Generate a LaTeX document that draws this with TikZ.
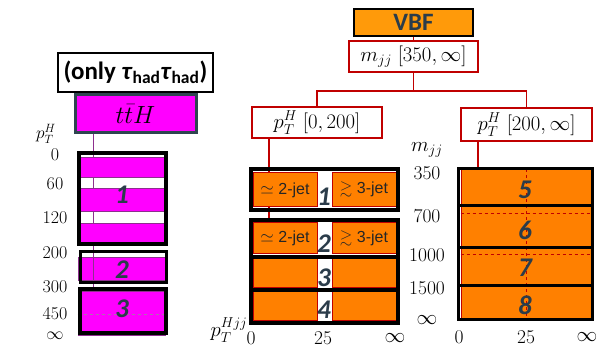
\documentclass[tikz,border=0pt]{standalone}
\usepackage{amssymb}
\usepackage{fontspec}
\newfontfamily\carl{Carlito}
\newfontfamily\arialf{Liberation Sans}
\definecolor{hdrorange}{HTML}{FF9A0A}
\definecolor{binorange}{HTML}{FF8000}
\definecolor{redline}{HTML}{C00000}
\definecolor{slate}{HTML}{2B3C4A}
\definecolor{purpleedge}{HTML}{8E2F8E}
\definecolor{tthedge}{HTML}{2F4550}
\definecolor{hotpink}{HTML}{FF00FF}
\tikzset{
  treebox/.style={draw=redline, line width=1.8pt, fill=white, inner sep=0pt, font=\fontsize{21}{21}\selectfont},
  frame/.style={draw=black, line width=3.5pt, inner sep=0pt},
  orangebox/.style={fill=binorange, draw=redline, line width=1pt, inner sep=0pt},
  magbar/.style={fill=hotpink, draw=purpleedge, line width=0.8pt, inner sep=0pt},
  binlabel/.style={font=\carl\bfseries\itshape\fontsize{27}{27}\selectfont, text=slate, inner sep=0pt},
  axlabel/.style={font=\fontsize{18}{18}\selectfont, inner sep=0pt},
  midaxis/.style={font=\fontsize{19.5}{19.5}\selectfont, inner sep=0pt},
  jetlabel/.style={font=\arialf\fontsize{16}{16}\selectfont, text=black!85, inner sep=0pt},
  tree/.style={draw=redline, line width=1.8pt},
}
% box node from corner coordinates: style, name, x1, y1, x2, y2, text
\newcommand\cornerbox[7]{%
  \node[rectangle, #1, minimum width={(#5-#3)*1pt}, minimum height={(#6-#4)*1pt}]
    (#2) at ({(#3+#5)/2},{(#4+#6)/2}) {#7};}
\begin{document}
\begin{tikzpicture}[x=1pt,y=-1pt]
\useasboundingbox (0,0) rectangle (606,347);

% ---------------- ttH column ----------------
\cornerbox{draw=black, line width=1.5pt, inner sep=0pt,
  font=\carl\bfseries\fontsize{25}{25}\selectfont}{onlyhad}{58}{53}{213}{92}%
  {(only \textit{τ}\textsubscript{had}\textit{τ}\textsubscript{had})}
\cornerbox{fill=hotpink, draw=tthedge, line width=3pt, inner sep=0pt,
  font=\fontsize{24}{24}\selectfont}{tth}{75}{95}{196}{133}{$t\bar{t}H$}
\coordinate (tthend) at (93,288);
\draw[purpleedge, line width=1pt] (tth.south -| tthend) -- (tthend);

\cornerbox{magbar}{mA}{78}{157}{165}{177}{}
\cornerbox{magbar}{mB}{78}{188}{165}{211}{}
\cornerbox{magbar}{mC}{78}{223}{165}{242}{}
\cornerbox{magbar}{mD}{78}{257}{165}{280}{}
\cornerbox{magbar}{mE}{78}{291}{165}{335}{}
\draw[purpleedge!70, dashed, line width=0.6pt] (mE.west |- 0,314) -- (mE.east |- 0,314);
\draw[purpleedge, line width=1pt] (tthend) -- (tthend |- mD.north);

\cornerbox{frame}{t1}{79}{153}{166}{244}{}
\cornerbox{frame, line width=3pt}{t2}{80}{252}{166}{283}{}
\cornerbox{frame}{t3}{80}{289}{166}{333}{}
\node[binlabel] at (122,195) {1};
\node[binlabel] at (122,270) {2};
\node[binlabel] at (122,309) {3};

\node[axlabel] at (46,134) {$p_T^H$};
\node[axlabel] at (55,155) {0};
\node[axlabel] at (55,184) {60};
\node[axlabel] at (55,218) {120};
\node[axlabel] at (55,253) {200};
\node[axlabel] at (55,287) {300};
\node[axlabel] at (55,314) {450};
\node[axlabel] at (55,336) {$\infty$};

% ---------------- VBF tree ----------------
\cornerbox{fill=hdrorange, draw=black, line width=1.2pt, inner sep=0pt,
  font=\carl\bfseries\fontsize{25}{25}\selectfont, text=slate}{vbf}{354}{9}{473}{36}{VBF}
\cornerbox{treebox}{mjj}{349}{41}{478}{72}{$m_{jj}\;[350,\infty]$}
\cornerbox{treebox}{ptlo}{252}{107}{382}{138}{$p_T^H\;[0,200]$}
\cornerbox{treebox}{pthi}{461}{108}{592}{141}{$p_T^H\;[200,\infty]$}
\draw[tree] (vbf.south) -- (mjj.north);
\draw[tree] (mjj.south) -- ++(0,18) -| (ptlo.north);
\draw[tree] (mjj.south) -- ++(0,18) -| (pthi.north);

% ---------------- low pT(H) bins ----------------
\coordinate (lodrop) at (269,230);
\draw[tree] (ptlo.south -| lodrop) -- (lodrop);
\cornerbox{orangebox}{o1l}{253}{173}{317}{207}{}
\cornerbox{orangebox}{o1r}{332}{173}{396}{207}{}
\cornerbox{orangebox}{o2l}{253}{223}{317}{254}{}
\cornerbox{orangebox}{o2r}{332}{223}{396}{254}{}
\cornerbox{orangebox}{o3l}{253}{257}{317}{288}{}
\cornerbox{orangebox}{o3r}{332}{257}{396}{288}{}
\cornerbox{orangebox}{o4l}{253}{292}{317}{321}{}
\cornerbox{orangebox}{o4r}{332}{292}{396}{321}{}
\node[jetlabel] at (o1l) {$\simeq$ 2-jet};
\node[jetlabel] at (o1r) {$\gtrsim$ 3-jet};
\node[jetlabel] at (o2l) {$\simeq$ 2-jet};
\node[jetlabel] at (o2r) {$\gtrsim$ 3-jet};
\cornerbox{frame}{b1}{251}{169}{398}{210}{}
\cornerbox{frame}{b2}{251}{220}{398}{257}{}
\cornerbox{frame}{b3}{251}{257}{398}{290}{}
\cornerbox{frame}{b4}{251}{290}{398}{323}{}
\node[binlabel] at (324,197) {1};
\node[binlabel] at (324,244) {2};
\node[binlabel] at (324,278) {3};
\node[binlabel] at (324,310) {4};

% ---------------- high pT(H) bins ----------------
\cornerbox{orangebox}{ohi}{461}{170}{592}{320}{}
\coordinate (hidrop) at (478,170);
\draw[tree] (pthi.south -| hidrop) -- (hidrop);
\draw[redline, dashed, line width=1pt] (ohi.north) -- (ohi.south);
\draw[redline, dashed, line width=1pt] (ohi.west |- 0,214) -- (ohi.east |- 0,214);
\draw[redline, dashed, line width=1pt] (ohi.west |- 0,255) -- (ohi.east |- 0,255);
\cornerbox{frame, line width=3pt}{b5}{458}{169}{592}{206}{}
\cornerbox{frame, line width=3pt}{b6}{458}{206}{592}{248}{}
\cornerbox{frame, line width=3pt}{b7}{458}{248}{592}{286}{}
\cornerbox{frame, line width=3pt}{b8}{458}{286}{592}{320}{}
\node[binlabel] at (525,190) {5};
\node[binlabel] at (525,230) {6};
\node[binlabel] at (525,268) {7};
\node[binlabel] at (525,305) {8};

% ---------------- axes ----------------
\node[midaxis] at (427,150) {$m_{jj}$};
\node[midaxis] at (427,173) {350};
\node[midaxis] at (427,216) {700};
\node[midaxis] at (427,255) {1000};
\node[midaxis] at (427,288) {1500};
\node[midaxis] at (427,320) {$\infty$};

\node[midaxis] at (229,330) {$p_T^{Hjj}$};
\node[midaxis] at (251,338) {0};
\node[midaxis] at (323,338) {25};
\node[midaxis] at (395,338) {$\infty$};
\node[midaxis] at (459,337) {0};
\node[midaxis] at (526,337) {25};
\node[midaxis] at (587,337) {$\infty$};
\end{tikzpicture}
\end{document}
